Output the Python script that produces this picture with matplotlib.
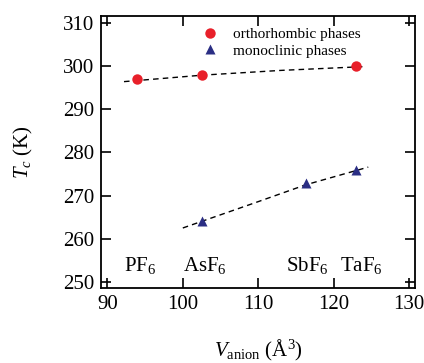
import matplotlib
matplotlib.use('Agg')
import matplotlib.pyplot as plt

plt.rcParams['font.family'] = ['Liberation Serif', 'DejaVu Serif']
plt.rcParams['mathtext.fontset'] = 'custom'
plt.rcParams['mathtext.rm'] = 'Liberation Serif'
plt.rcParams['mathtext.it'] = 'Liberation Serif:italic'

# data
ortho_v = [93.9, 102.6, 123.0]
ortho_tc = [297.0, 298.0, 300.0]
mono_v = [102.6, 116.3, 123.0]
mono_tc = [264.2, 273.0, 276.0]

# dashed guide lines
ortho_fit_v = [92.2, 102.6, 113.0, 124.3]
ortho_fit_tc = [296.4, 297.9, 299.0, 299.9]
mono_fit_v = [100.0, 110.0, 116.3, 124.6]
mono_fit_tc = [262.5, 268.6, 272.5, 276.6]

anions = ['PF$_6$', 'AsF$_6$', 'SbF$_6$', 'TaF$_6$']
anion_x = [92.2, 100.0, 113.7, 120.8]

fig = plt.figure(figsize=(4.24, 3.63), dpi=100)
ax = fig.add_axes([101/424, 1 - 288/363, 314/424, 272/363])

ax.plot(ortho_fit_v, ortho_fit_tc, color='black', ls=(0, (4, 3)), lw=1.0)
ax.plot(mono_fit_v, mono_fit_tc, color='black', ls=(0, (4, 3)), lw=1.0)
ax.plot(ortho_v, ortho_tc, 'o', color='#e8202a', ms=7.5, mec='none', label='orthorhombic phases')
ax.plot(mono_v, mono_tc, '^', color='#2b2e84', ms=7.5, mec='none', label='monoclinic phases')

for name, x in zip(anions, anion_x):
    ax.text(x, 252.6, name, fontsize=15, ha='left', va='baseline')

ax.set_xlim(89.15, 130.8)
ax.set_ylim(248.6, 311.6)
ax.set_xticks([90, 100, 110, 120, 130])
ax.set_yticks([250, 260, 270, 280, 290, 300, 310])
ax.tick_params(direction='in', length=7, width=1.2, labelsize=15, top=True, right=True, pad=5)
for s in ax.spines.values():
    s.set_linewidth(1.3)

ax.set_ylabel('$T_c$ (K)', fontsize=15, labelpad=20)
ax.set_xlabel('$V_{\\mathrm{anion}}$ ($\\mathrm{\\AA}^3$)', fontsize=15, labelpad=17)

ax.legend(loc='upper left', bbox_to_anchor=(0.285, 0.995), frameon=False, fontsize=11,
          handletextpad=0.9, borderaxespad=0.25, labelspacing=0.2, handlelength=1.2)

plt.savefig('out.png', dpi=100)
